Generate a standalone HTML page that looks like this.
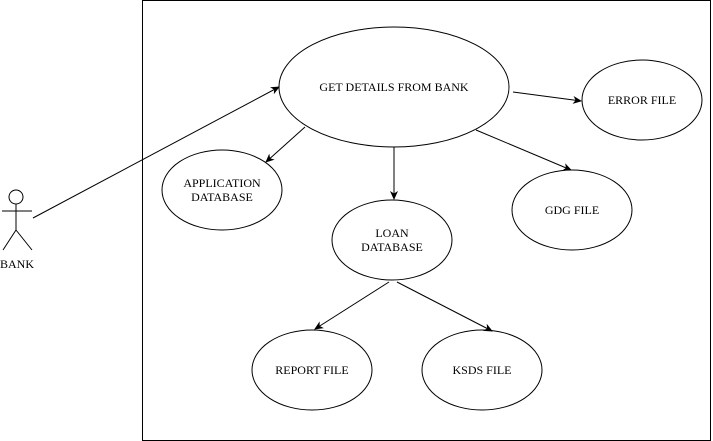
<!DOCTYPE html>
<html><head><style>body{margin:0;background:#fff}svg{display:block}svg text{font-family:"Liberation Serif","Times New Roman",serif !important;font-size:12px;fill:#000}</style></head><body>
<svg width="713" height="441" viewBox="0 0 713 441">
<defs><marker id="a" markerWidth="10" markerHeight="10" refX="8" refY="5" orient="auto" markerUnits="userSpaceOnUse"><path d="M0,1 L9,5 L0,9 L2.5,5 Z" fill="#000"/></marker></defs>
<g fill="none" stroke="#000" stroke-width="1">
<rect x="142.5" y="0.5" width="568" height="440"/>
<ellipse cx="394" cy="87" rx="115" ry="60" fill="#fff"/>
<ellipse cx="642" cy="100" rx="60" ry="40"/>
<ellipse cx="572" cy="210" rx="60" ry="40"/>
<ellipse cx="222" cy="190" rx="60" ry="40"/>
<ellipse cx="392" cy="240" rx="60" ry="40"/>
<ellipse cx="312" cy="370" rx="60" ry="40"/>
<ellipse cx="482" cy="370" rx="60" ry="40"/>
<circle cx="16" cy="197" r="7"/>
<path d="M16,204 V230 M2,211 H32 M16,230 L3,250 M16,230 L32,250"/>
<g marker-end="url(#a)">
<line x1="33" y1="218" x2="279" y2="87"/>
<line x1="305" y1="127" x2="266" y2="162"/>
<line x1="394" y1="147" x2="394" y2="199"/>
<line x1="476" y1="130" x2="571" y2="170"/>
<line x1="513" y1="92" x2="581" y2="101"/>
<line x1="389" y1="282" x2="315" y2="329"/>
<line x1="397" y1="282" x2="492" y2="331"/>
</g></g>
<g text-anchor="middle" font-family="Liberation Serif, Times New Roman, serif" font-size="12">
<text x="394" y="91">GET DETAILS FROM BANK</text>
<text x="642" y="104">ERROR FILE</text>
<text x="572" y="214">GDG FILE</text>
<text x="222" y="187">APPLICATION</text><text x="222" y="201">DATABASE</text>
<text x="392" y="237">LOAN</text><text x="392" y="251">DATABASE</text>
<text x="312" y="374">REPORT FILE</text>
<text x="482" y="374">KSDS FILE</text>
<text x="17" y="268">BANK</text>
</g>
</svg></body></html>
